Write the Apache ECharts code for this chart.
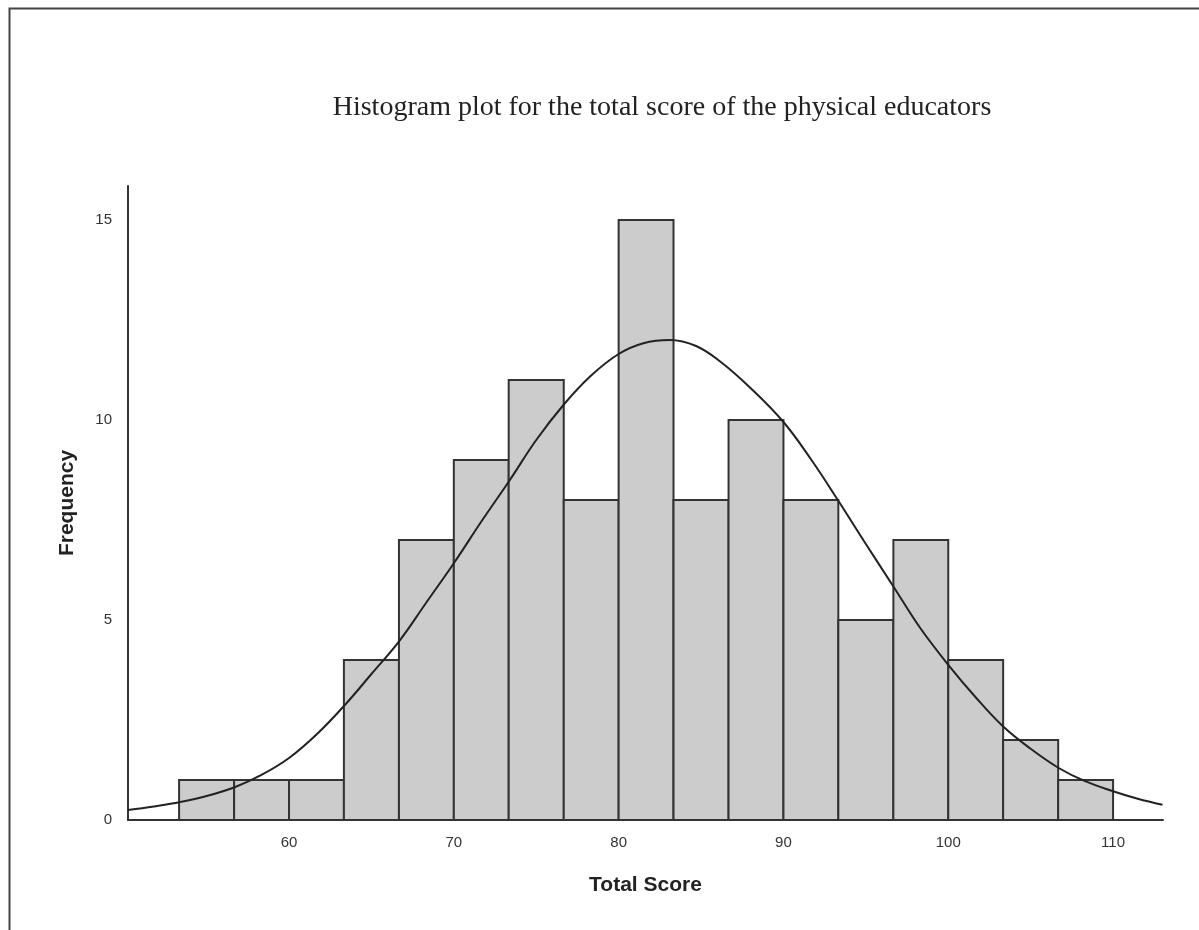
<!DOCTYPE html>
<html>
<head>
<meta charset="utf-8">
<script src="https://cdn.jsdelivr.net/npm/echarts@6/dist/echarts.min.js"></script>
<style>
html,body{margin:0;padding:0;background:#fff;}
#chart{width:1199px;height:930px;}
</style>
</head>
<body>
<div id="chart"></div>
<script>
// Histogram bins (lower and upper edges) and frequencies
const binLo = [53.33, 56.67, 60, 63.33, 66.67, 70, 73.33, 76.67, 80, 83.33, 86.67, 90, 93.33, 96.67, 100, 103.33, 106.67];
const binHi = [56.67, 60, 63.33, 66.67, 70, 73.33, 76.67, 80, 83.33, 86.67, 90, 93.33, 96.67, 100, 103.33, 106.67, 110];
const frequencies = [1, 1, 1, 4, 7, 9, 11, 8, 15, 8, 10, 8, 5, 7, 4, 2, 1];

// Normal curve points
const curveX = [50.23, 51.8, 53.4, 55.0, 56.7, 58.3, 60, 61.7, 63.4, 65.0, 66.7, 68.3, 70, 71.7, 73.4, 75.0, 76.7, 78.3, 80, 81.5, 83.1, 84.7, 86.2, 88.0, 90, 91.7, 93.3, 95.0, 96.7, 98.3, 100, 101.7, 103.3, 105.0, 106.7, 108.3, 110, 111.5, 113.0];
const curveY = [0.25, 0.34, 0.45, 0.6, 0.82, 1.12, 1.55, 2.15, 2.88, 3.65, 4.48, 5.42, 6.42, 7.48, 8.5, 9.5, 10.4, 11.1, 11.65, 11.92, 12.0, 11.85, 11.45, 10.8, 9.95, 9.0, 8.0, 6.9, 5.82, 4.8, 3.88, 3.05, 2.35, 1.78, 1.3, 0.97, 0.72, 0.53, 0.38];

const xTicks = [60, 70, 80, 90, 100, 110];
const yTicks = [0, 5, 10, 15];

const titleText = 'Histogram plot for the total score of the physical educators';
const xName = 'Total Score';
const yName = 'Frequency';

const chart = echarts.init(document.getElementById('chart'));

const barData = frequencies.map((f, i) => [binLo[i], binHi[i], f]);
const curveData = curveX.map((x, i) => [x, curveY[i]]);

chart.setOption({
  animation: false,
  backgroundColor: '#ffffff',
  title: {
    text: titleText,
    left: 657,
    textAlign: 'center',
    top: 89,
    textStyle: {
      fontFamily: 'Liberation Serif',
      fontWeight: 'normal',
      fontSize: 28,
      color: '#222'
    }
  },
  graphic: [{
    type: 'rect',
    left: 7,
    top: 6,
    shape: { x: 0, y: 0, width: 1250, height: 1000 },
    style: { fill: 'none', stroke: '#444', lineWidth: 2 },
    silent: true
  }],
  grid: { left: 128, right: 36, top: 186, bottom: 110 },
  xAxis: {
    type: 'value',
    min: 50.23,
    max: 113.03,
    splitLine: { show: false },
    axisLine: { show: true, lineStyle: { color: '#333', width: 2 } },
    axisTick: { show: false },
    axisLabel: {
      customValues: xTicks,
      color: '#333',
      fontFamily: 'Liberation Sans',
      fontSize: 15,
      margin: 15
    },
    name: xName,
    nameLocation: 'middle',
    nameGap: 55,
    nameTextStyle: {
      fontFamily: 'Liberation Sans',
      fontWeight: 'bold',
      fontSize: 21,
      color: '#222'
    }
  },
  yAxis: {
    type: 'value',
    min: 0,
    max: 15.85,
    splitLine: { show: false },
    axisLine: { show: true, onZero: false, lineStyle: { color: '#333', width: 2 } },
    axisTick: { show: false },
    axisLabel: {
      customValues: yTicks,
      color: '#333',
      fontFamily: 'Liberation Sans',
      fontSize: 15,
      margin: 16
    },
    name: yName,
    nameLocation: 'middle',
    nameGap: 50,
    nameTextStyle: {
      fontFamily: 'Liberation Sans',
      fontWeight: 'bold',
      fontSize: 21,
      color: '#222'
    }
  },
  series: [{
    type: 'custom',
    data: barData,
    encode: { x: [0, 1], y: 2 },
    renderItem: function (params, api) {
      const p0 = api.coord([api.value(0), 0]);
      const p1 = api.coord([api.value(1), api.value(2)]);
      return {
        type: 'rect',
        shape: { x: p0[0], y: p1[1], width: p1[0] - p0[0], height: p0[1] - p1[1] },
        style: { fill: '#cccccc', stroke: '#333', lineWidth: 2 }
      };
    },
    z: 2
  }, {
    type: 'line',
    data: curveData,
    smooth: 0.4,
    showSymbol: false,
    symbol: 'none',
    lineStyle: { color: '#222', width: 2 },
    z: 3
  }]
});
</script>
</body>
</html>
